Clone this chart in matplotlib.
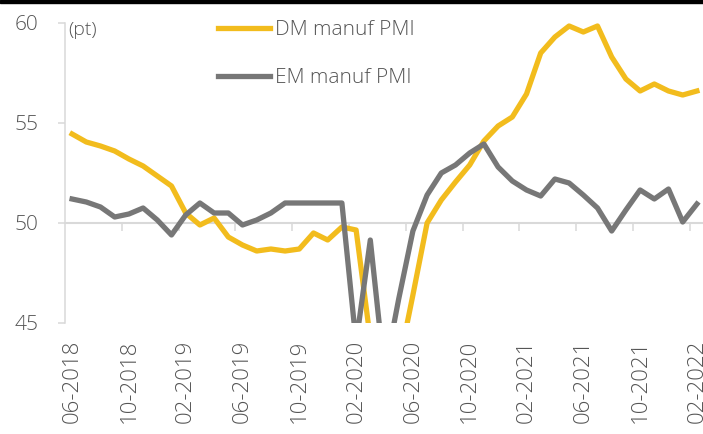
import matplotlib
matplotlib.use("Agg")
import matplotlib.pyplot as plt
import numpy as np
import pandas as pd
from matplotlib.patches import Rectangle

# Monatsachse 06-2018 .. 02-2022
months = pd.date_range("2018-06-01", periods=45, freq="MS").strftime("%m-%Y").tolist()

dm_pmi = [54.45, 54.05, 53.85, 53.6, 53.2, 52.85, 52.35, 51.85, 50.5, 49.9, 50.25, 49.3,
          48.9, 48.6, 48.7, 48.6, 48.7, 49.5, 49.15, 49.8, 49.65,
          44.2, 39.5, 42.9, 46.4,
          50.0, 51.15, 52.05, 52.9, 54.1, 54.85, 55.3,
          56.45, 58.5, 59.3, 59.85, 59.55, 59.85, 58.3, 57.2, 56.6, 56.95, 56.6, 56.4, 56.6]
em_pmi = [51.2, 51.05, 50.8, 50.3, 50.45, 50.75, 50.15, 49.4, 50.4, 51.0, 50.5, 50.5,
          49.9, 50.15, 50.5, 51.0, 51.0, 51.0, 51.0, 51.0,
          44.0, 49.15, 42.5, 46.2, 49.6,
          51.4, 52.5, 52.9, 53.5, 53.95, 52.8, 52.1,
          51.65, 51.35, 52.2, 52.0, 51.4, 50.75, 49.6, 50.65, 51.65, 51.2, 51.7, 50.05, 50.95]

series_names = ["DM manuf PMI", "EM manuf PMI"]
yticks = [45, 50, 55, 60]

YELLOW = "#F2BC1D"
GREY = "#777777"
AXIS = "#D9D9D9"
TXT = "#555555"

plt.rcParams["font.family"] = ["Open Sans", "DejaVu Sans"]
plt.rcParams["font.weight"] = "light"

W, H = 703, 434
fig = plt.figure(figsize=(W / 100, H / 100), dpi=100)
ax = fig.add_axes([65 / W, 1 - 323 / H, (704 - 65) / W, 300 / H])

x = np.arange(len(months))
ax.plot(x, dm_pmi, color=YELLOW, lw=3.8, solid_joinstyle="round", label=series_names[0])
ax.plot(x, em_pmi, color=GREY, lw=3.8, solid_joinstyle="round", label=series_names[1])

ax.set_xlim(-0.5, len(months) - 0.5)
ax.set_ylim(45, 60)
ax.set_yticks(yticks)
ax.tick_params(axis="y", direction="out", length=5, width=1.1, color=AXIS,
               labelsize=15, labelcolor=TXT, pad=14)

ax.set_xticks(x[::4])
ax.set_xticklabels(months[::4], rotation=90)
ax.tick_params(axis="x", length=0, labelsize=16, labelcolor=TXT, pad=12)

for s in ["top", "right", "bottom"]:
    ax.spines[s].set_visible(False)
ax.spines["left"].set_color(AXIS)
ax.spines["left"].set_linewidth(1.1)

# Kategorie-Achse kreuzt bei 50, Tickmarks zwischen den Monaten
sec = ax.secondary_xaxis((50 - 45) / 15)
sec.set_xticks(x[::4][1:] - 0.5)
sec.tick_params(direction="out", length=6, width=1.1, color=AXIS, labelbottom=False, labeltop=False)
for s in sec.spines.values():
    s.set_visible(False)
sec.spines["bottom"].set_visible(True)
sec.spines["bottom"].set_color(AXIS)
sec.spines["bottom"].set_linewidth(1.5)

fig.text(68 / W, 1 - 30 / H, "(pt)", fontsize=14, color=TXT, va="center", ha="left")

leg = ax.legend(loc="upper left", bbox_to_anchor=(218 / W, 1 - 20 / H),
                bbox_transform=fig.transFigure, frameon=False, fontsize=15,
                handlelength=2.5, handletextpad=0.25, labelspacing=1.35,
                borderpad=0, borderaxespad=0)
for t in leg.get_texts():
    t.set_color(TXT)

# schwarzer Rand oben (wie im Screenshot)
fig.patches.append(Rectangle((0, 1 - 3 / H), 1, 3 / H, transform=fig.transFigure,
                             color="black", zorder=10))

fig.savefig("out.png", dpi=100)
